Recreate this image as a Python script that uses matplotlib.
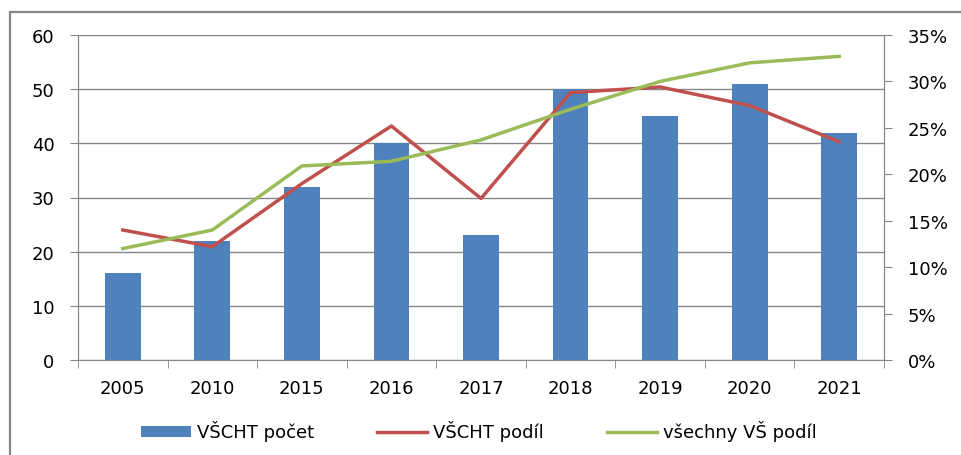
import matplotlib.pyplot as plt
import numpy as np
from matplotlib.patches import Rectangle
from matplotlib.ticker import FuncFormatter

years = ['2005', '2010', '2015', '2016', '2017', '2018', '2019', '2020', '2021']
vscht_pocet = [16, 22, 32, 40, 23, 50, 45, 51, 42]
vscht_podil = [14.0, 12.2, 19.0, 25.2, 17.4, 28.8, 29.4, 27.4, 23.5]
vse_vs_podil = [12.0, 14.0, 20.9, 21.4, 23.7, 27.0, 30.0, 32.0, 32.7]

plt.rcParams['font.family'] = ['DejaVu Sans']
grid_c = '#868686'
fs = 13

fig = plt.figure(figsize=(9.61, 4.56), dpi=100)
ax = fig.add_axes([78 / 961, 1 - 361 / 456, (884 - 78) / 961, (361 - 36) / 456])
ax2 = ax.twinx()

x = np.arange(len(years))
ax.bar(x, vscht_pocet, width=0.4, color='#4F81BD', label='VŠCHT počet', zorder=2)
ax2.plot(x, vscht_podil, color='#C0504D', lw=2.5, label='VŠCHT podíl')
ax2.plot(x, vse_vs_podil, color='#9BBB59', lw=2.5, label='všechny VŠ podíl')

ax.set_xlim(-0.5, len(years) - 0.5)
ax.set_ylim(0, 60)
ax.set_yticks(range(0, 61, 10))
ax2.set_ylim(0, 35)
ax2.set_yticks(range(0, 36, 5))
ax2.yaxis.set_major_formatter(FuncFormatter(lambda v, p: '%d%%' % v))
ax.yaxis.grid(True, color=grid_c, lw=1)
ax.set_axisbelow(True)

ax.set_xticks(x)
ax.set_xticklabels(years)
ax.set_xticks(np.arange(-0.5, len(years), 1), minor=True)
ax.tick_params(axis='x', which='major', length=0, pad=14, labelsize=fs)
ax.tick_params(axis='x', which='minor', length=6, color=grid_c, direction='out')
ax.tick_params(axis='y', length=6, color=grid_c, labelsize=fs, pad=11)
ax2.tick_params(axis='y', length=6, color=grid_c, labelsize=fs, pad=11)

for a in (ax, ax2):
    a.spines['top'].set_visible(False)
    for s in ('left', 'right', 'bottom'):
        a.spines[s].set_color(grid_c)
ax2.spines['bottom'].set_visible(False)

h1, l1 = ax.get_legend_handles_labels()
h2, l2 = ax2.get_legend_handles_labels()
fig.legend(h1 + h2, l1 + l2, loc='center', bbox_to_anchor=(0.498, 1 - 432 / 456),
           ncol=3, frameon=False, fontsize=fs, handlelength=2.8, handleheight=0.55,
           handletextpad=0.3, columnspacing=3.5)

fig.patches.append(Rectangle((10 / 961, -0.1), 1.2, 1 - 13 / 456 + 0.1,
                             transform=fig.transFigure, fill=False,
                             edgecolor=grid_c, lw=1.6))

fig.savefig('out.png', dpi=100)
